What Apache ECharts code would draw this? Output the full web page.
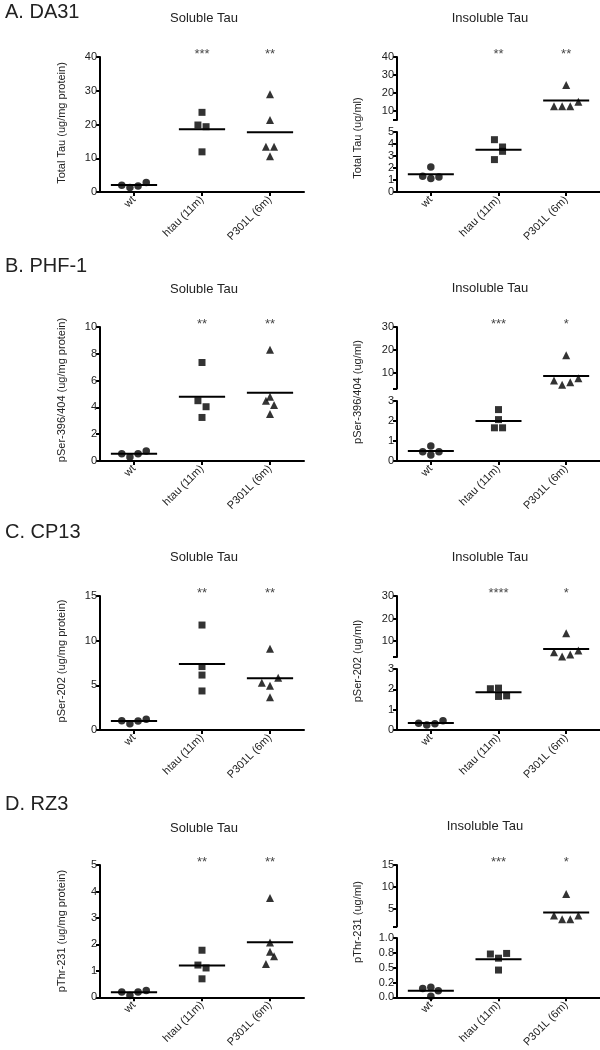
<!DOCTYPE html>
<html>
<head>
<meta charset="utf-8">
<title>Tau dot plots</title>
<script src="https://cdn.jsdelivr.net/npm/echarts@6.0.0/dist/echarts.min.js"></script>
<style>
  html, body { margin: 0; padding: 0; background: #fff; }
  #chart { width: 600px; height: 1050px; }
</style>
</head>
<body>
<div id="chart"></div>
<script>
var categories = ['wt', 'htau (11m)', 'P301L (6m)'];
var panelTitles = ['A. DA31', 'B. PHF-1', 'C. CP13', 'D. RZ3'];
var solubleNames = ['Total Tau (ug/mg protein)', 'pSer-396/404 (ug/mg protein)', 'pSer-202 (ug/mg protein)', 'pThr-231 (ug/mg protein)'];
var insolubleNames = ['Total Tau (ug/ml)', 'pSer-396/404 (ug/ml)', 'pSer-202 (ug/ml)', 'pThr-231 (ug/ml)'];

// soluble tau, per group: wt, htau, P301L
var da31Sol = [[2.0, 1.3, 1.8, 2.8], [23.6, 19.85, 19.35, 11.9], [29.0, 21.3, 13.4, 13.4, 10.6]];
var da31SolMean = [2.1, 18.6, 17.7];
var da31SolStars = ['', '***', '**'];
var phf1Sol = [[0.55, 0.3, 0.55, 0.75], [7.35, 4.5, 4.05, 3.25], [8.3, 4.8, 4.5, 4.17, 3.5]];
var phf1SolMean = [0.55, 4.8, 5.1];
var phf1SolStars = ['', '**', '**'];
var cp13Sol = [[1.04, 0.7, 1.0, 1.2], [11.75, 7.1, 6.15, 4.37], [9.1, 5.86, 5.3, 4.96, 3.66]];
var cp13SolMean = [1.0, 7.4, 5.8];
var cp13SolStars = ['', '**', '**'];
var rz3Sol = [[0.2, 0.07, 0.2, 0.26], [1.78, 1.22, 1.11, 0.7], [3.75, 2.07, 1.72, 1.55, 1.26]];
var rz3SolMean = [0.19, 1.2, 2.08];
var rz3SolStars = ['', '**', '**'];

// insoluble tau
var da31Insol = [[2.08, 1.31, 1.12, 1.25], [4.36, 3.75, 3.39, 2.7], [24.4, 12.6, 12.6, 12.6, 15.1]];
var da31InsolMean = [1.47, 3.53, 15.8];
var da31InsolStars = ['', '**', '**'];
var phf1Insol = [[0.46, 0.75, 0.3, 0.46], [2.57, 2.07, 1.66, 1.66], [17.6, 6.5, 4.6, 5.7, 7.5]];
var phf1InsolMean = [0.5, 2.0, 8.5];
var phf1InsolStars = ['', '***', '*'];
var cp13Insol = [[0.33, 0.25, 0.31, 0.46], [2.03, 2.06, 1.65, 1.68], [13.5, 5.1, 3.2, 4.1, 5.9]];
var cp13InsolMean = [0.34, 1.86, 6.5];
var cp13InsolStars = ['', '****', '*'];
var rz3Insol = [[0.15, 0.17, 0.02, 0.11], [0.73, 0.66, 0.74, 0.46], [8.4, 3.5, 2.65, 2.65, 3.5]];
var rz3InsolMean = [0.11, 0.64, 4.2];
var rz3InsolStars = ['', '***', '*'];

// horizontal spread of the dots (category units)
var da31SolDx = [[-0.18, -0.06, 0.06, 0.18], [0, -0.06, 0.06, 0], [0, 0, -0.06, 0.06, 0]];
var phf1SolDx = [[-0.18, -0.06, 0.06, 0.18], [0, -0.06, 0.06, 0], [0, 0, -0.06, 0.06, 0]];
var cp13SolDx = [[-0.18, -0.06, 0.06, 0.18], [0, 0, 0, 0], [0, 0.12, -0.12, 0, 0]];
var rz3SolDx = [[-0.18, -0.06, 0.06, 0.18], [0, -0.06, 0.06, 0], [0, 0, 0, 0.06, -0.06]];
var da31InsolDx = [[0, -0.12, 0, 0.12], [-0.06, 0.06, 0.06, -0.06], [0, -0.18, -0.06, 0.06, 0.18]];
var phf1InsolDx = [[-0.12, 0, 0, 0.12], [0, 0, -0.06, 0.06], [0, -0.18, -0.06, 0.06, 0.18]];
var cp13InsolDx = [[-0.18, -0.06, 0.06, 0.18], [-0.12, 0, 0, 0.12], [0, -0.18, -0.06, 0.06, 0.18]];
var rz3InsolDx = [[-0.12, 0, 0, 0.11], [-0.12, 0, 0.12, 0], [0, -0.18, -0.06, 0.06, 0.18]];

// axes
var solTicks = [[0, 10, 20, 30, 40], [0, 2, 4, 6, 8, 10], [0, 5, 10, 15], [0, 1, 2, 3, 4, 5]];
var insolBreak = [5, 3, 3, 1];
var insolUpperTicks = [[10, 20, 30, 40], [10, 20, 30], [10, 20, 30], [5, 10, 15]];
var insolLowerTicks = [[0, 1, 2, 3, 4, 5], [0, 1, 2, 3], [0, 1, 2, 3], [0, 0.25, 0.5, 0.75, 1]];
var insolLowerLabels = [null, null, null, ['0.0', '0.2', '0.5', '0.8', '1.0']];

var solData = [da31Sol, phf1Sol, cp13Sol, rz3Sol];
var solMeans = [da31SolMean, phf1SolMean, cp13SolMean, rz3SolMean];
var solStars = [da31SolStars, phf1SolStars, cp13SolStars, rz3SolStars];
var solDx = [da31SolDx, phf1SolDx, cp13SolDx, rz3SolDx];
var insolData = [da31Insol, phf1Insol, cp13Insol, rz3Insol];
var insolMeans = [da31InsolMean, phf1InsolMean, cp13InsolMean, rz3InsolMean];
var insolStars = [da31InsolStars, phf1InsolStars, cp13InsolStars, rz3InsolStars];
var insolDx = [da31InsolDx, phf1InsolDx, cp13InsolDx, rz3InsolDx];

// layout (px)
var FONT = 'Liberation Sans, Arial, Helvetica, sans-serif';
var leftGrid = [[57, 192], [327, 461], [596, 730], [865, 999]];
var rightUpper = [[57, 120], [327, 388.5], [596, 657], [865, 926.6]];
var rightLower = [[132, 192], [401, 461], [669, 730], [938, 1000]];
var titleY = [12.5, 266.5, 532.5, 804.5];
var subY = [[18, 18.5], [289, 288.5], [557, 557], [828, 826.5]];
var subX = [[204, 490], [204, 490], [204, 490], [204, 485]];
var nameY = [[123, 138], [390, 392], [661, 661], [931, 922]];
var symbols = ['circle', 'rect', 'triangle'];
var symbolSizes = [7.5, 7, 8];
var MEAN_HALF = 0.34;

var option = {
    animation: false,
    backgroundColor: '#fff',
    grid: [], xAxis: [], yAxis: [], series: [], graphic: []
};

function addGrid(top, bottom, left, width, showX, yMin, yMax, tickVals, labelVals, labels) {
    var idx = option.grid.length;
    option.grid.push({ left: left, width: width, top: top, height: bottom - top });
    option.xAxis.push({
        gridIndex: idx, type: 'value', min: -0.5, max: 2.5, show: showX,
        splitLine: { show: false },
        axisLine: { onZero: false, lineStyle: { color: '#000', width: 2 } },
        axisTick: { customValues: [0, 1, 2], length: 4, lineStyle: { color: '#000', width: 2 } },
        axisLabel: {
            customValues: [0, 1, 2], rotate: 45, margin: 6, fontSize: 11, color: '#222', fontFamily: FONT,
            formatter: function (v) { return categories[Math.round(v)]; }
        }
    });
    option.yAxis.push({
        gridIndex: idx, type: 'value', min: yMin, max: yMax,
        splitLine: { show: false },
        axisLine: { show: true, onZero: false, lineStyle: { color: '#000', width: 2 } },
        axisTick: { show: true, customValues: tickVals, length: 4, lineStyle: { color: '#000', width: 2 } },
        axisLabel: {
            customValues: labelVals, margin: 3, fontSize: 11, color: '#222', fontFamily: FONT,
            formatter: function (v) {
                var i = labelVals.indexOf(v);
                return labels && i >= 0 ? labels[i] : String(v);
            }
        }
    });
    return idx;
}

function meanItem(params, api) {
    var p = api.coord([api.value(0), api.value(1)]);
    var hw = api.size([MEAN_HALF, 0])[0];
    return {
        type: 'line',
        shape: { x1: p[0] - hw, y1: p[1], x2: p[0] + hw, y2: p[1] },
        style: { stroke: '#000', lineWidth: 2 }
    };
}

// values above breakVal go to the upper grid
function addGroups(values, dx, means, stars, lowIdx, upIdx, breakVal, topMax) {
    for (var g = 0; g < values.length; g++) {
        var low = [], up = [];
        for (var j = 0; j < values[g].length; j++) {
            var pt = [g + dx[g][j], values[g][j]];
            if (values[g][j] > breakVal) up.push(pt); else low.push(pt);
        }
        [[low, lowIdx], [up, upIdx]].forEach(function (s) {
            if (!s[0].length) return;
            option.series.push({
                type: 'scatter', xAxisIndex: s[1], yAxisIndex: s[1],
                symbol: symbols[g], symbolSize: symbolSizes[g],
                itemStyle: { color: '#000' }, data: s[0]
            });
        });
        var mIdx = means[g] > breakVal ? upIdx : lowIdx;
        option.series.push({
            type: 'custom', coordinateSystem: 'cartesian2d', xAxisIndex: mIdx, yAxisIndex: mIdx,
            renderItem: meanItem, data: [[g, means[g]]]
        });
        if (stars[g]) {
            option.series.push({
                type: 'scatter', xAxisIndex: upIdx, yAxisIndex: upIdx, symbolSize: 0,
                data: [[g, topMax, stars[g]]],
                label: {
                    show: true, position: 'inside', offset: [0, -3], fontSize: 13, color: '#111', fontFamily: FONT,
                    formatter: function (p) { return p.value[2]; }
                }
            });
        }
    }
}

function addText(text, x, y, size, align, rotate) {
    option.graphic.push({
        type: 'text', x: x, y: y, rotation: rotate ? Math.PI / 2 : 0,
        style: { text: text, fontSize: size, fontFamily: FONT, fill: '#222', textAlign: align, textVerticalAlign: 'middle' }
    });
}

for (var r = 0; r < 4; r++) {
    // soluble (left)
    var st = solTicks[r];
    var li = addGrid(leftGrid[r][0], leftGrid[r][1], 100, 204, true, 0, st[st.length - 1], st, st, null);
    addGroups(solData[r], solDx[r], solMeans[r], solStars[r], li, li, Infinity, st[st.length - 1]);

    // insoluble (right), broken axis
    var ut = insolUpperTicks[r], lt = insolLowerTicks[r];
    var uMax = ut[ut.length - 1];
    var ui = addGrid(rightUpper[r][0], rightUpper[r][1], 397, 203, false, insolBreak[r], uMax,
        [insolBreak[r]].concat(ut), ut, null);
    var lo = addGrid(rightLower[r][0], rightLower[r][1], 397, 203, true, 0, insolBreak[r], lt, lt, insolLowerLabels[r]);
    addGroups(insolData[r], insolDx[r], insolMeans[r], insolStars[r], lo, ui, insolBreak[r], uMax);

    addText(panelTitles[r], 5, titleY[r], 20, 'left', false);
    addText('Soluble Tau', subX[r][0], subY[r][0], 13, 'center', false);
    addText('Insoluble Tau', subX[r][1], subY[r][1], 13, 'center', false);
    addText(solubleNames[r], 62, nameY[r][0], 11, 'center', true);
    addText(insolubleNames[r], 358, nameY[r][1], 11, 'center', true);
}

var myChart = echarts.init(document.getElementById('chart'));
myChart.setOption(option);
</script>
</body>
</html>
